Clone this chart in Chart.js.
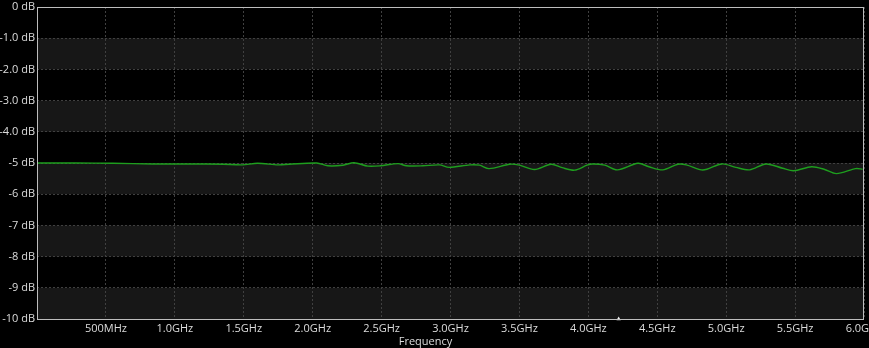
<!DOCTYPE html>
<html>
<head>
<meta charset="utf-8">
<script src="https://cdn.jsdelivr.net/npm/chart.js@4.4.1/dist/chart.umd.min.js"></script>
<style>
  html, body { margin: 0; padding: 0; background: #000; }
  #wrap { width: 869px; height: 348px; }
</style>
</head>
<body>
<div id="wrap"><canvas id="resp"></canvas></div>
<script>
// response trace (GHz / dB)
var freqGHz = [0, 0.28, 0.55, 0.84, 1.1, 1.35, 1.49, 1.6, 1.75, 1.83,
    2.03, 2.11, 2.22, 2.30, 2.40, 2.49, 2.62, 2.68, 2.80, 2.92,
    2.99, 3.14, 3.21, 3.28, 3.43, 3.50, 3.61, 3.73, 3.81, 3.90,
    3.99, 4.03, 4.12, 4.21, 4.36, 4.44, 4.54, 4.65, 4.71, 4.82,
    4.86, 4.97, 5.07, 5.17, 5.29, 5.41, 5.49, 5.62, 5.71, 5.80,
    5.94, 5.99];
var gainDB = [-5.00, -5.00, -5.01, -5.03, -5.03, -5.04, -5.06, -5.01, -5.06, -5.04,
    -5.00, -5.09, -5.07, -4.99, -5.10, -5.09, -5.02, -5.09, -5.09, -5.06,
    -5.14, -5.06, -5.07, -5.18, -5.04, -5.07, -5.21, -5.04, -5.15, -5.23,
    -5.07, -5.03, -5.07, -5.22, -5.01, -5.12, -5.22, -5.04, -5.06, -5.22,
    -5.20, -5.03, -5.14, -5.22, -5.03, -5.17, -5.25, -5.12, -5.20, -5.34,
    -5.18, -5.20];

var xTickValues = [0.5, 1, 1.5, 2, 2.5, 3, 3.5, 4, 4.5, 5, 5.5, 6];
var xTickLabels = ['500MHz', '1.0GHz', '1.5GHz', '2.0GHz', '2.5GHz', '3.0GHz',
    '3.5GHz', '4.0GHz', '4.5GHz', '5.0GHz', '5.5GHz', '6.0GHz'];
var yTickValues = [0, -1, -2, -3, -4, -5, -6, -7, -8, -9, -10];
var yTickLabels = ['0 dB', '-1.0 dB', '-2.0 dB', '-3.0 dB', '-4.0 dB', '-5 dB',
    '-6 dB', '-7 dB', '-8 dB', '-9 dB', '-10 dB'];
var markerFreq = [4.22];
var markerLevel = [-10];
var xTitle = 'Frequency';

var FONT = '"Open Sans", "Noto Sans", sans-serif';
var TXT = '#dcdcdc';

function labelFor(values, labels, v) {
    for (var i = 0; i < values.length; i++) {
        if (Math.abs(values[i] - v) < 1e-6) { return labels[i]; }
    }
    return '';
}

var bandsPlugin = {
    id: 'bands',
    beforeDraw: function (chart) {
        var c = chart.ctx, a = chart.chartArea, y = chart.scales.y;
        c.save();
        c.fillStyle = '#000';
        c.fillRect(0, 0, chart.width, chart.height);
        c.fillStyle = '#171717';
        for (var i = 1; i < yTickValues.length - 1; i += 2) {
            var y1 = y.getPixelForValue(yTickValues[i]);
            var y2 = y.getPixelForValue(yTickValues[i + 1]);
            c.fillRect(a.left, y1, a.right - a.left, y2 - y1);
        }
        c.restore();
    },
    afterDraw: function (chart) {
        var c = chart.ctx, a = chart.chartArea;
        c.save();
        c.strokeStyle = '#bdbdbd';
        c.lineWidth = 1;
        c.strokeRect(a.left + 0.5, a.top + 0.5, a.right - a.left - 1, a.bottom - a.top);
        c.fillStyle = TXT;
        c.font = '11px ' + FONT;
        c.textAlign = 'center';
        c.textBaseline = 'middle';
        c.fillText(xTitle, chart.width / 2 - 9, 342);
        c.restore();
    }
};

var ctx = document.getElementById('resp');
new Chart(ctx, {
    type: 'line',
    data: {
        datasets: [{
            data: freqGHz.map(function (f, i) { return { x: f, y: gainDB[i] }; }),
            borderColor: '#1e9e1e',
            borderWidth: 1.4,
            pointRadius: 0,
            tension: 0.3,
            fill: false
        }, {
            type: 'scatter',
            data: markerFreq.map(function (f, i) { return { x: f, y: markerLevel[i] }; }),
            pointStyle: 'triangle',
            pointRadius: 2.5,
            backgroundColor: '#f0f0f0',
            borderColor: '#f0f0f0',
            borderWidth: 0,
            clip: false
        }]
    },
    options: {
        responsive: true,
        maintainAspectRatio: false,
        animation: false,
        layout: { padding: { top: 7, right: 5, left: 0, bottom: 0 } },
        plugins: { legend: { display: false }, tooltip: { enabled: false } },
        scales: {
            x: {
                type: 'linear', min: 0, max: 6,
                afterBuildTicks: function (s) { s.ticks = xTickValues.map(function (v) { return { value: v }; }); },
                afterFit: function (s) { s.height = 29; s.paddingLeft = 0; s.paddingRight = 0; },
                grid: { color: '#404040', drawTicks: false },
                border: { display: false, dash: [2, 2] },
                ticks: {
                    color: TXT, padding: 3, maxRotation: 0, autoSkip: false,
                    font: { family: FONT, size: 11 },
                    callback: function (v) { return labelFor(xTickValues, xTickLabels, v); }
                }
            },
            y: {
                type: 'linear', min: -10, max: 0,
                afterBuildTicks: function (s) { s.ticks = yTickValues.map(function (v) { return { value: v }; }); },
                afterFit: function (s) { s.width = 37; s.paddingTop = 0; s.paddingBottom = 0; },
                grid: { color: '#404040', drawTicks: false },
                border: { display: false, dash: [2, 2] },
                ticks: {
                    color: TXT, padding: 2,
                    font: { family: FONT, size: 11 },
                    callback: function (v) { return labelFor(yTickValues, yTickLabels, v); }
                }
            }
        }
    },
    plugins: [bandsPlugin]
});
</script>
</body>
</html>
